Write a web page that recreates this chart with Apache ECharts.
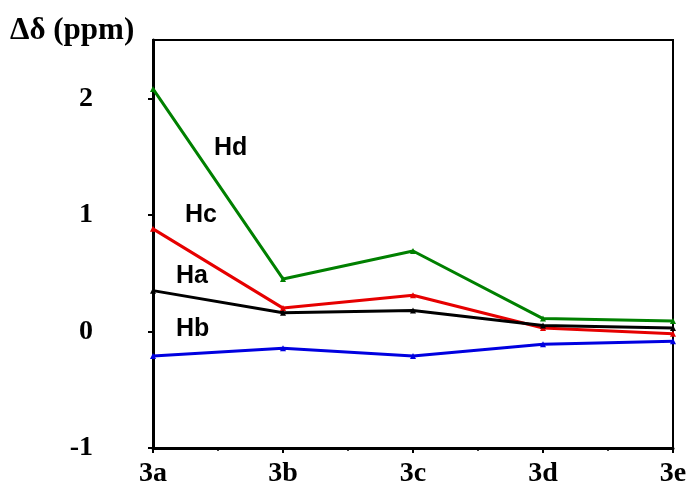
<!DOCTYPE html>
<html>
<head>
<meta charset="utf-8">
<script src="https://cdn.jsdelivr.net/npm/echarts@6/dist/echarts.min.js"></script>
<style>
html, body { margin: 0; padding: 0; background: #fff; }
#container { width: 697px; height: 488px; }
</style>
</head>
<body>
<div id="container"></div>
<script>
var categories = ["3a", "3b", "3c", "3d", "3e"];
var hd = [2.08, 0.45, 0.69, 0.11, 0.09];
var hc = [0.88, 0.20, 0.31, 0.03, -0.02];
var ha = [0.35, 0.16, 0.18, 0.05, 0.03];
var hb = [-0.21, -0.145, -0.21, -0.11, -0.085];

var dom = document.getElementById("container");
var myChart = echarts.init(dom, null, { renderer: "canvas" });

function pairs(arr) {
    return arr.map(function (v, i) { return [i, v]; });
}

function lineSeries(name, color, values) {
    return {
        name: name,
        type: "line",
        data: pairs(values),
        symbol: "triangle",
        symbolSize: 6,
        lineStyle: { color: color, width: 3 },
        itemStyle: { color: color },
        silent: true
    };
}

var serif = "Liberation Serif";
var sans = "Liberation Sans";

function seriesLabel(text, x, y) {
    return {
        type: "text",
        x: x,
        y: y,
        style: { text: text, font: "bold 25px " + sans, fill: "#000", textVerticalAlign: "middle", verticalAlign: "middle" }
    };
}

var option = {
    animation: false,
    grid: {
        left: 153,
        right: 24,
        top: 40,
        bottom: 38,
        show: true,
        borderColor: "#000",
        borderWidth: 2
    },
    xAxis: {
        type: "value",
        min: 0,
        max: 4,
        interval: 1,
        axisLine: { onZero: false, lineStyle: { color: "#000", width: 3 } },
        axisTick: { inside: false, length: 5, lineStyle: { color: "#000", width: 2 } },
        minorTick: { show: true, splitNumber: 2, length: 3, lineStyle: { color: "#000", width: 1.5 } },
        splitLine: { show: false },
        minorSplitLine: { show: false },
        axisLabel: {
            margin: 12,
            color: "#000",
            fontFamily: serif,
            fontWeight: "bold",
            fontSize: 28,
            formatter: function (v) { return categories[v] || ""; }
        }
    },
    yAxis: {
        type: "value",
        min: -1,
        max: 2.5,
        interval: 1,
        axisLine: { show: true, onZero: false, lineStyle: { color: "#000", width: 3 } },
        axisTick: { show: true, length: 5, lineStyle: { color: "#000", width: 2 } },
        splitLine: { show: false },
        axisLabel: {
            margin: 60,
            color: "#000",
            fontFamily: serif,
            fontWeight: "bold",
            fontSize: 28,
            showMaxLabel: false
        }
    },
    graphic: [
        {
            type: "text",
            x: 10,
            y: 31,
            style: { text: "\u0394\u03b4 (ppm)", font: "bold 31px " + serif, fill: "#000", textVerticalAlign: "middle", verticalAlign: "middle" }
        },
        seriesLabel("Hd", 214, 148),
        seriesLabel("Hc", 185, 215),
        seriesLabel("Ha", 176, 276),
        seriesLabel("Hb", 176, 329)
    ],
    series: [
        lineSeries("Hd", "#008000", hd),
        lineSeries("Hc", "#e60000", hc),
        lineSeries("Ha", "#000000", ha),
        lineSeries("Hb", "#0000e0", hb)
    ]
};

myChart.setOption(option);
window.addEventListener("resize", myChart.resize);
</script>
</body>
</html>
